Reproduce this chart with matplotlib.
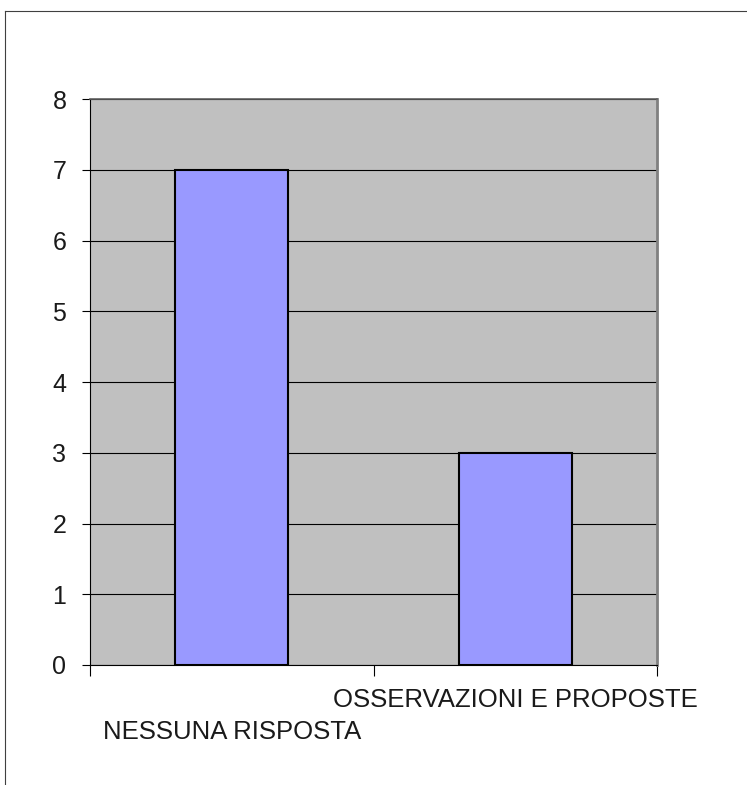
#!/usr/bin/env python3

import matplotlib
matplotlib.use("Agg")
import matplotlib.pyplot as plt
from matplotlib.lines import Line2D
import matplotlib.transforms as mtransforms

# Data
categories = ["NESSUNA RISPOSTA", "OSSERVAZIONI E PROPOSTE"]
values = [7, 3]
y_ticks = [0, 1, 2, 3, 4, 5, 6, 7, 8]

plt.rcParams['font.family'] = ['Liberation Sans', 'DejaVu Sans']

fig = plt.figure(figsize=(7.47, 7.85), dpi=100)
ax = fig.add_axes([90 / 747, 120 / 785, 567 / 747, 566 / 785])
ax.set_facecolor("#C0C0C0")

x = list(range(len(categories)))
ax.bar(x, values, width=0.4, color="#9999FF", edgecolor="black", linewidth=1.5, zorder=3)

ax.set_xlim(-0.5, len(categories) - 0.5)
ax.set_ylim(0, 8)
ax.set_yticks(y_ticks)
ax.yaxis.grid(True, color="black", linewidth=0.8, zorder=1)
ax.set_axisbelow(True)

# category boundaries as ticks, labels placed staggered below
ax.set_xticks([i - 0.5 for i in range(len(categories) + 1)])
ax.set_xticklabels([])
ax.tick_params(axis="x", length=8, width=0.8, color="black")
ax.tick_params(axis="y", length=6, width=0.8, color="black", labelsize=18, pad=11,
               labelcolor="#1a1a1a")

trans = mtransforms.blended_transform_factory(ax.transData, ax.transAxes)
offsets = [-74, -42]  # baseline offsets in px below the axis
for xi, label, off in zip(x, categories, offsets):
    t = ax.text(xi, 0, label, ha="center", va="baseline", fontsize=18.5,
                color="#1a1a1a")
    t.set_transform(trans + mtransforms.ScaledTranslation(0, off / 100, fig.dpi_scale_trans))

for side in ["left", "bottom"]:
    ax.spines[side].set_color("black")
    ax.spines[side].set_linewidth(0.8)
ax.spines["top"].set_color("#606060")
ax.spines["top"].set_linewidth(1.2)
ax.spines["right"].set_color("#808080")
ax.spines["right"].set_linewidth(2)

# outer frame (left and top edges)
fig.add_artist(Line2D([5 / 747, 5 / 747], [0, 1 - 11 / 785], color="#404040", linewidth=0.8))
fig.add_artist(Line2D([5 / 747, 1], [1 - 11 / 785, 1 - 11 / 785], color="#404040", linewidth=0.8))

plt.savefig("out.png", dpi=100)
